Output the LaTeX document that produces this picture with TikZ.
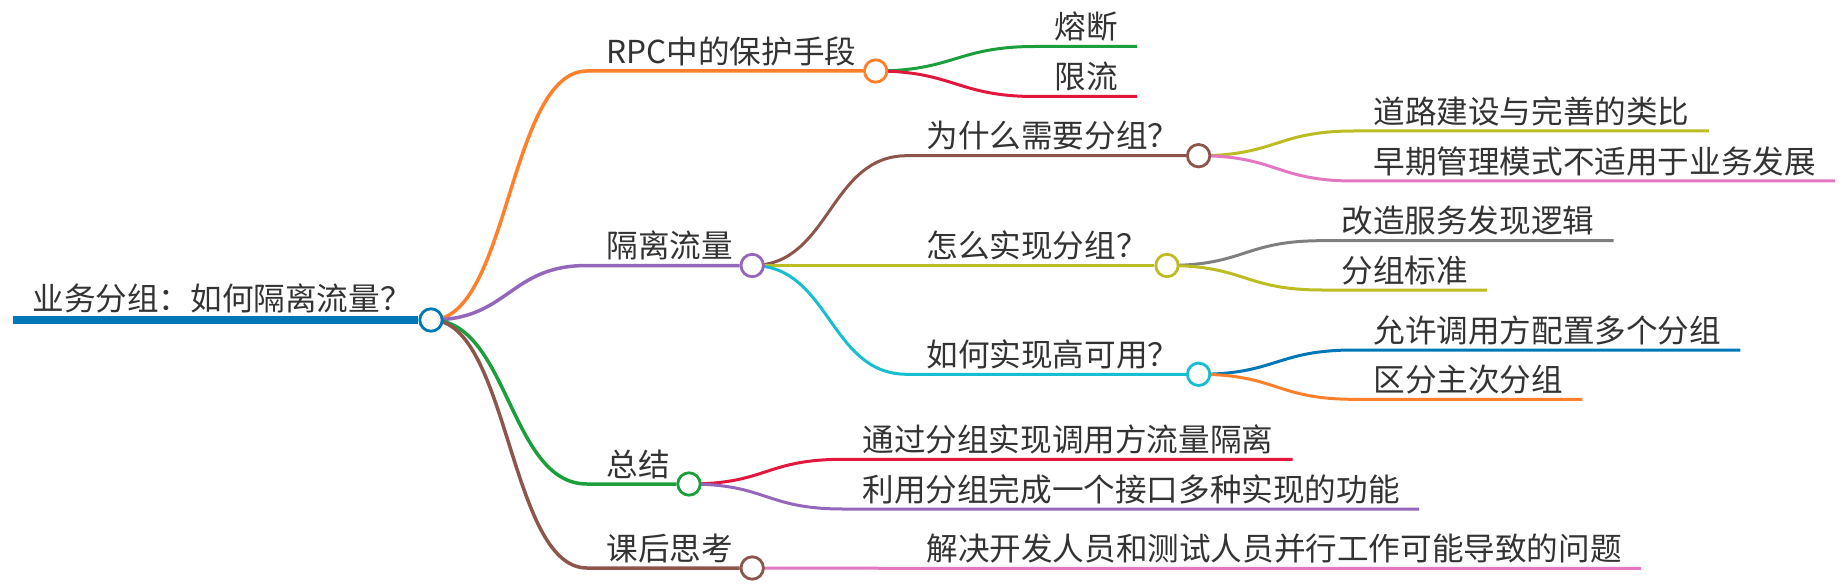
\documentclass[tikz,border=0pt]{standalone}
\usepackage{fontspec}
\setmainfont{Noto Sans CJK SC}
\usetikzlibrary{backgrounds}
\definecolor{txt}{HTML}{333333}
\definecolor{mmblue}{HTML}{0077B6}
\definecolor{mmorange}{HTML}{FF7F2A}
\definecolor{mmgreen}{HTML}{1B9F3C}
\definecolor{mmred}{HTML}{E3173E}
\definecolor{mmpurple}{HTML}{9467BD}
\definecolor{mmbrown}{HTML}{8C564B}
\definecolor{mmpink}{HTML}{E377C2}
\definecolor{mmgray}{HTML}{7F7F7F}
\definecolor{mmolive}{HTML}{BCBD22}
\definecolor{mmcyan}{HTML}{17BECF}
\begin{document}
\begin{tikzpicture}[x=0.5pt, y=-0.5pt,
    lbl/.style={anchor=south west, inner xsep=9.5pt, inner ysep=0pt, text depth=3.75pt,
      text=txt, font=\fontsize{15.8pt}{18pt}\selectfont},
    dot/.style={circle, draw, line width=1.4pt, fill=white, inner sep=0pt, minimum size=11.2pt},
    lk1/.style={line width=1.75pt},
    lk/.style={line width=1.5pt}]
    \useasboundingbox (0,0) rectangle (1845,588);
    \node[lbl, text depth=4.5pt] (root) at (13,320) {业务分组：如何隔离流量？};
    \node[dot, draw=mmblue] (rootdot) at (root.south east) {};
    \node[lbl] (rpc) at (587,71) {RPC中的保护手段};
    \node[dot, draw=mmorange] (rpcdot) at (rpc.south east) {};
    \node[lbl] (iso) at (587,265.5) {隔离流量};
    \node[dot, draw=mmpurple] (isodot) at (iso.south east) {};
    \node[lbl] (sum) at (587,484) {总结};
    \node[dot, draw=mmgreen] (sumdot) at (sum.south east) {};
    \node[lbl] (hw) at (587,568) {课后思考};
    \node[dot, draw=mmbrown] (hwdot) at (hw.south east) {};
    \node[lbl] (fuse) at (1035,46.5) {熔断};
    \node[lbl] (limit) at (1035,96.5) {限流};
    \node[lbl] (why) at (907,155.7) {为什么需要分组？};
    \node[dot, draw=mmbrown] (whydot) at (why.south east) {};
    \node[lbl] (how) at (907,265.5) {怎么实现分组？};
    \node[dot, draw=mmolive] (howdot) at (how.south east) {};
    \node[lbl] (ha) at (907,374.3) {如何实现高可用？};
    \node[dot, draw=mmcyan] (hadot) at (ha.south east) {};
    \node[lbl] (road) at (1354,131) {道路建设与完善的类比};
    \node[lbl] (early) at (1354,181) {早期管理模式不适用于业务发展};
    \node[lbl] (disc) at (1322,240.7) {改造服务发现逻辑};
    \node[lbl] (std) at (1322,290) {分组标准};
    \node[lbl] (multi) at (1354,350) {允许调用方配置多个分组};
    \node[lbl] (prim) at (1354,399.3) {区分主次分组};
    \node[lbl] (caller) at (843,459.3) {通过分组实现调用方流量隔离};
    \node[lbl] (iface) at (843,509) {利用分组完成一个接口多种实现的功能};
    \node[lbl] (par) at (907,568.3) {解决开发人员和测试人员并行工作可能导致的问题};
    \begin{scope}[on background layer]
    \draw[line width=4pt, mmblue] (root.south west) -- (rootdot);
    \draw[lk1, mmorange] (rootdot.center) .. controls +(78,0) and +(-78,0) .. (rpc.south west) -- (rpcdot);
    \draw[lk1, mmpurple] (rootdot.center) .. controls +(78,0) and +(-78,0) .. (iso.south west) -- (isodot);
    \draw[lk1, mmgreen] (rootdot.center) .. controls +(78,0) and +(-78,0) .. (sum.south west) -- (sumdot);
    \draw[lk1, mmbrown] (rootdot.center) .. controls +(78,0) and +(-78,0) .. (hw.south west) -- (hwdot);
    \draw[lk, mmgreen] (rpcdot.center) .. controls +(78,0) and +(-78,0) .. (fuse.south west) -- (fuse.south east);
    \draw[lk, mmred] (rpcdot.center) .. controls +(78,0) and +(-78,0) .. (limit.south west) -- (limit.south east);
    \draw[lk, mmbrown] (isodot.center) .. controls +(78,0) and +(-78,0) .. (why.south west) -- (whydot);
    \draw[lk, mmolive] (isodot.center) .. controls +(78,0) and +(-78,0) .. (how.south west) -- (howdot);
    \draw[lk, mmcyan] (isodot.center) .. controls +(78,0) and +(-78,0) .. (ha.south west) -- (hadot);
    \draw[lk, mmolive] (whydot.center) .. controls +(78,0) and +(-78,0) .. (road.south west) -- (road.south east);
    \draw[lk, mmpink] (whydot.center) .. controls +(78,0) and +(-78,0) .. (early.south west) -- (early.south east);
    \draw[lk, mmgray] (howdot.center) .. controls +(78,0) and +(-78,0) .. (disc.south west) -- (disc.south east);
    \draw[lk, mmolive] (howdot.center) .. controls +(78,0) and +(-78,0) .. (std.south west) -- (std.south east);
    \draw[lk, mmblue] (hadot.center) .. controls +(78,0) and +(-78,0) .. (multi.south west) -- (multi.south east);
    \draw[lk, mmorange] (hadot.center) .. controls +(78,0) and +(-78,0) .. (prim.south west) -- (prim.south east);
    \draw[lk, mmred] (sumdot.center) .. controls +(78,0) and +(-78,0) .. (caller.south west) -- (caller.south east);
    \draw[lk, mmpurple] (sumdot.center) .. controls +(78,0) and +(-78,0) .. (iface.south west) -- (iface.south east);
    \draw[lk, mmpink] (hwdot.center) .. controls +(78,0) and +(-78,0) .. (par.south west) -- (par.south east);
    \end{scope}
\end{tikzpicture}
\end{document}
